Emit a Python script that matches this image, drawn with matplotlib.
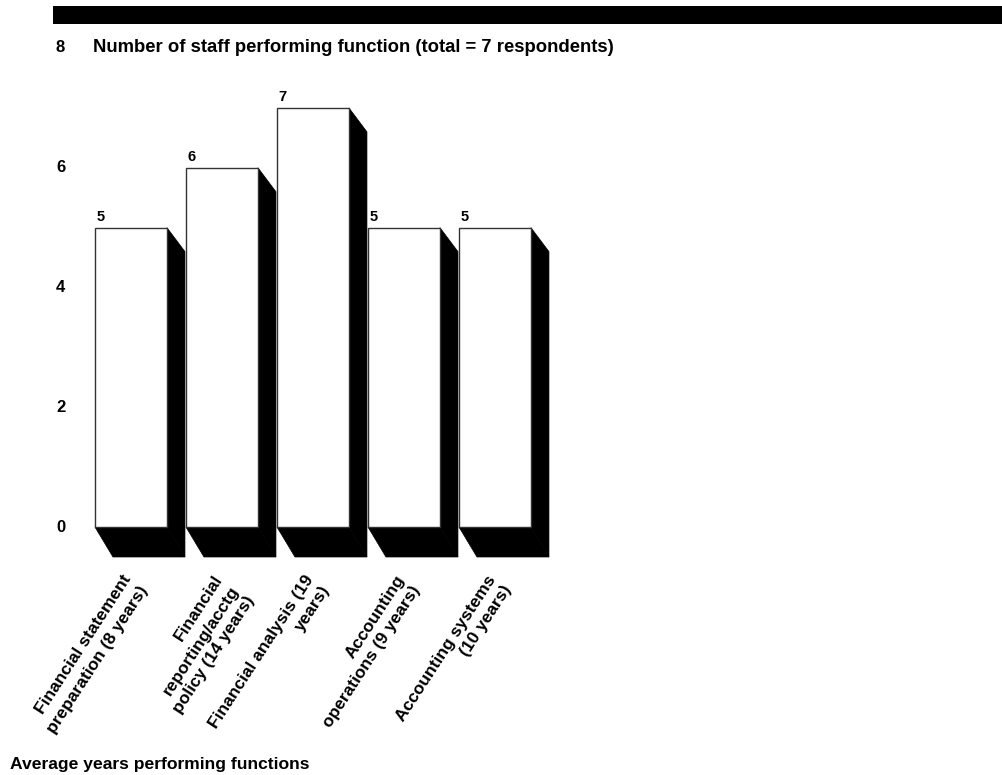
import matplotlib
matplotlib.use("Agg")
import matplotlib.pyplot as plt
from matplotlib.patches import Polygon, Rectangle

plt.rcParams["font.family"] = ["Liberation Sans", "DejaVu Sans"]
plt.rcParams["font.weight"] = "bold"

categories = [
    "Financial statement\npreparation (8 years)",
    "Financial\nreporting/acctg\npolicy (14 years)",
    "Financial analysis (19\nyears)",
    "Accounting\noperations (9 years)",
    "Accounting systems\n(10 years)",
]
staff_counts = [5, 6, 7, 5, 5]
y_ticks = [0, 2, 4, 6, 8]

W, H = 1003, 775
fig = plt.figure(figsize=(W / 100, H / 100), dpi=100)

# axes: y=0 at 527px, y=8 at 48px ; x: 91 px per category
left_px, right_px = 85, 560
ax = fig.add_axes([left_px / W, (H - 527) / H, (right_px - left_px) / W, (527 - 48) / H])
x0 = -0.505
ax.set_xlim(x0, x0 + (right_px - left_px) / 91)
ax.set_ylim(0, 8)
for s in ax.spines.values():
    s.set_visible(False)
ax.set_xticks([])
ax.set_yticks([])

width = 72 / 91
dx = 18 / 91
dy_top = 24 / 59.9
dy_bot = 30 / 59.9

for i, v in enumerate(staff_counts):
    l, r = i - width / 2, i + width / 2
    # ombre côté droit
    ax.add_patch(Polygon([(r, v), (r + dx, v - dy_top), (r + dx, -dy_bot), (r, 0)],
                         closed=True, facecolor="black", edgecolor="black",
                         linewidth=0.5, clip_on=False, zorder=1))
    # ombre dessous
    ax.add_patch(Polygon([(l, 0), (l + dx, -dy_bot), (r + dx, -dy_bot), (r, 0)],
                         closed=True, facecolor="black", edgecolor="black",
                         linewidth=0.5, clip_on=False, zorder=1))
    # face avant
    ax.add_patch(Rectangle((l, 0), width, v, facecolor="white", edgecolor="#333333",
                           linewidth=1.0, clip_on=False, zorder=2))
    ax.text(l + 0.02, v + 0.06, str(v), ha="left", va="bottom",
            fontsize=10.5, fontweight="bold", zorder=3)

# y tick labels
for t in y_ticks:
    ax.text(56 / W, (H - 527 + t * 59.9) / H, str(t), transform=fig.transFigure,
            ha="left", va="center", fontsize=12, fontweight="bold")

# titre au niveau du tick 8
fig.text(93 / W, (H - 48) / H, "Number of staff performing function (total = 7 respondents)",
         ha="left", va="center", fontsize=13.35, fontweight="bold")

# bande noire en haut
fig.patches.append(Rectangle((53 / W, (H - 24) / H), (W - 53) / W, 18 / H,
                             transform=fig.transFigure, facecolor="black",
                             edgecolor="none", zorder=0))

# libellés inclinés
for i, lab in enumerate(categories):
    ax.text(i - 0.1, -0.76, lab, rotation=57, rotation_mode="anchor",
            ha="right", va="top", multialignment="right",
            fontsize=12.5, fontweight="bold", linespacing=1.35)

fig.text(10 / W, (H - 765) / H, "Average years performing functions",
         ha="left", va="center", fontsize=12.6, fontweight="bold")

fig.savefig("out.png", dpi=100)
